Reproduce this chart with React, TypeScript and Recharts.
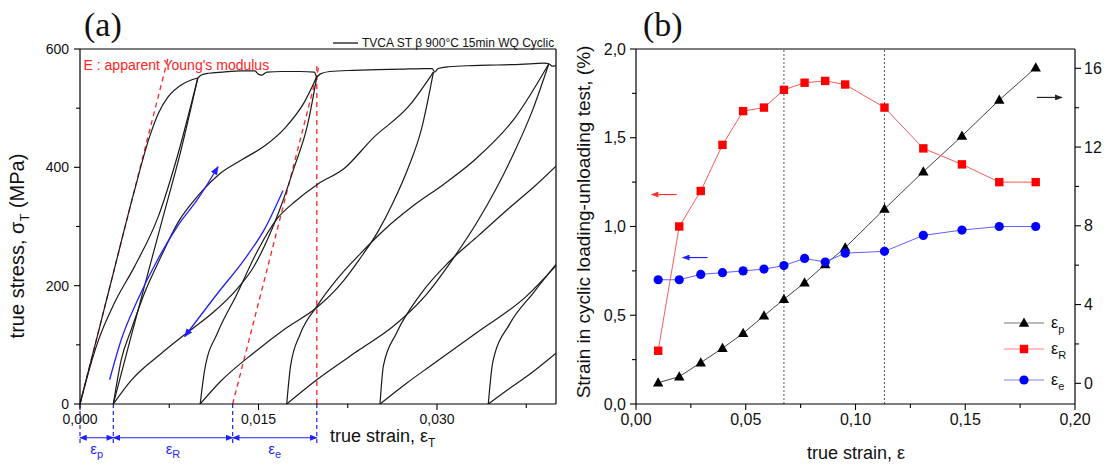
import React from 'react';
import { LineChart, ComposedChart, Line, XAxis, YAxis, ReferenceLine, ReferenceDot } from 'recharts';

type Pt = [number, number];

// ---------- Panel (a): true strain vs true stress (MPa) ----------
const envelopeA: Pt[] = [[0, 0], [0.0015, 118], [0.00286, 226], [0.0045, 355], [0.00585, 452], [0.0066, 492], [0.0074, 519], [0.0085, 539], [0.0094, 548], [0.0099, 551]];
const unload1A: Pt[] = [[0, 0], [0.0008, 60], [0.0015, 105], [0.0029, 171], [0.0046, 233], [0.0066, 318], [0.0082, 420], [0.0099, 551]];
const elastic1A: Pt[] = [[0.0028, 0], [0.004, 92], [0.0054, 198], [0.0071, 325], [0.0085, 430], [0.0099, 551]];
const plateauA: Pt[] = [[0.0099, 551], [0.0102, 556], [0.0108, 559], [0.012, 561], [0.0135, 563], [0.0147, 563], [0.015, 557], [0.0153, 556], [0.0157, 561], [0.017, 562], [0.0185, 562], [0.0197, 561], [0.0199, 553], [0.0202, 558], [0.021, 562], [0.023, 564], [0.025, 565], [0.027, 566], [0.029, 567], [0.0296, 567], [0.0298, 561], [0.0301, 567], [0.031, 570], [0.033, 572], [0.035, 573], [0.037, 574], [0.039, 576], [0.0394, 575], [0.0397, 571], [0.04, 572]];
const reload2A: Pt[] = [[0.0028, 0], [0.00347, 75], [0.00431, 126], [0.00543, 188], [0.00683, 250], [0.00824, 307], [0.00992, 352], [0.0118, 390], [0.0137, 414], [0.0155, 436], [0.0172, 466], [0.01888, 511], [0.0199, 553]];
const unload2A: Pt[] = [[0.0028, 0], [0.0043, 40], [0.0068, 85], [0.0091, 122], [0.0112, 155], [0.013, 190], [0.0146, 232], [0.0158, 280], [0.0169, 335], [0.018, 400], [0.0191, 470], [0.0199, 553]];
const reload3A: Pt[] = [[0.0101, 0], [0.01048, 58], [0.0116, 122], [0.0131, 182], [0.015, 262], [0.0166, 314], [0.018, 341], [0.02, 372], [0.0222, 398], [0.0246, 449], [0.0277, 505], [0.0297, 561]];
const unload3A: Pt[] = [[0.0101, 0], [0.0118, 38], [0.0147, 88], [0.0173, 128], [0.0199, 163], [0.0218, 200], [0.0235, 245], [0.025, 290], [0.0263, 340], [0.0276, 400], [0.0287, 465], [0.0297, 561]];
const reload4A: Pt[] = [[0.01737, 0], [0.0177, 65], [0.0185, 118], [0.0199, 165], [0.0216, 211], [0.0236, 255], [0.0256, 295], [0.028, 335], [0.0306, 372], [0.0333, 415], [0.0366, 485], [0.0394, 575]];
const unload4A: Pt[] = [[0.01737, 0], [0.0199, 41], [0.0235, 92], [0.0263, 131], [0.0291, 185], [0.0315, 250], [0.0333, 305], [0.035, 365], [0.0366, 430], [0.038, 495], [0.0394, 575]];
const reload5A: Pt[] = [[0.02521, 0], [0.0255, 65], [0.0266, 120], [0.0286, 185], [0.031, 240], [0.0335, 285], [0.036, 330], [0.0382, 368], [0.04, 402]];
const unload5A: Pt[] = [[0.02521, 0], [0.0275, 36], [0.0295, 65], [0.0333, 120], [0.0375, 182], [0.04, 234]];
const reload6A: Pt[] = [[0.03431, 0], [0.0347, 72], [0.0361, 135], [0.0381, 188], [0.04, 236]];
const unload6A: Pt[] = [[0.03431, 0], [0.036, 25], [0.0375, 46], [0.04, 86]];

const arrowUpA: Pt[] = [[0.00249, 41], [0.00347, 109], [0.00487, 177], [0.00655, 245], [0.00824, 302], [0.00992, 347], [0.0116, 401]];
const arrowDownA: Pt[] = [[0.0088, 114], [0.0116, 188], [0.01384, 245], [0.01552, 296], [0.01706, 361]];

const modulusLine1A: Pt[] = [[0, 0], [0.0074, 585]];
const modulusLine2A: Pt[] = [[0.01283, 0], [0.02011, 573]];
const peakLineA: Pt[] = [[0.0199, 0], [0.0199, 573]];

const dimMarksA = [0, 0.0028, 0.01283, 0.0199];
const dimLabelsA = ['p', 'R', 'e'];
const dimArrowStressA = -57;
const dimDashEndA = -66;
const dimLabelStressA = -84;
const modulusTextPosA: Pt = [0.0003, 573];
const modulusTextA = "E : apparent Young's modulus";

const xTicksA = [0, 0.0075, 0.015, 0.0225, 0.03, 0.0375];
const xMajorsA = [0, 0.015, 0.03];
const xLabelsA = ['0,000', '0,015', '0,030'];
const yTicksA = [0, 100, 200, 300, 400, 500, 600];
const yMajorsA = [0, 200, 400, 600];
const yLabelsA = ['0', '200', '400', '600'];

// ---------- Panel (b) ----------
const strainB = [0.0101, 0.0197, 0.0295, 0.0394, 0.0488, 0.0583, 0.0674, 0.0768, 0.0862, 0.0953, 0.1132, 0.1309, 0.1485, 0.1655, 0.1821];
const epsRB = [0.30, 1.00, 1.20, 1.46, 1.65, 1.67, 1.77, 1.81, 1.82, 1.80, 1.67, 1.44, 1.35, 1.25, 1.25];
const epsEB = [0.70, 0.70, 0.73, 0.74, 0.75, 0.76, 0.78, 0.82, 0.80, 0.85, 0.86, 0.95, 0.98, 1.00, 1.00];
const epsPB = [0.03, 0.34, 1.05, 1.78, 2.54, 3.43, 4.27, 5.11, 6.04, 6.89, 8.85, 10.75, 12.56, 14.39, 16.03];

const dottedXB = [0.0674, 0.1132];
const redArrowB: Pt[] = [[0.0071, 1.18], [0.0185, 1.18]];
const blueArrowB: Pt[] = [[0.0213, 0.825], [0.0326, 0.825]];
const blackArrowB: Pt[] = [[0.1826, 14.52], [0.194, 14.52]];

const xTicksB = [0, 0.025, 0.05, 0.075, 0.1, 0.125, 0.15, 0.175, 0.2];
const xMajorsB = [0, 0.05, 0.1, 0.15, 0.2];
const xLabelsB = ['0,00', '0,05', '0,10', '0,15', '0,20'];
const yTicksB = [0, 0.25, 0.5, 0.75, 1, 1.25, 1.5, 1.75, 2];
const yMajorsB = [0, 0.5, 1, 1.5, 2];
const yLabelsB = ['0,0', '0,5', '1,0', '1,5', '2,0'];
const y2TicksB = [0, 2, 4, 6, 8, 10, 12, 14, 16];
const y2MajorsB = [0, 4, 8, 12, 16];
const y2LabelsB = ['0', '4', '8', '12', '16'];
const y2DomainB: [number, number] = [-1.05, 16.98];

const dataB = strainB.map((x, i) => ({ x, R: epsRB[i], e: epsEB[i], p: epsPB[i] }));

const FONT = "'Liberation Sans', Arial, Helvetica, sans-serif";
const SERIF = "'Liberation Serif', 'DejaVu Serif', serif";

const toXY = (pts: Pt[]) => pts.map(([x, y]) => ({ x, y }));
const seg = (pts: Pt[]) => pts.map(([x, y]) => ({ x, y }));

const curvesA = [envelopeA, unload1A, elastic1A, plateauA, reload2A, unload2A, reload3A, unload3A, reload4A, unload4A, reload5A, unload5A, reload6A, unload6A];

type Side = 'left' | 'right' | 'bottom';
function makeTick(side: Side, majors: number[], labels: string[], fontSize: number, major: number, minor: number, gap: number) {
  return (props: any) => {
    const { x, y, payload } = props;
    const v = payload.value;
    const mi = majors.findIndex((m) => Math.abs(m - v) < 1e-9);
    const len = mi >= 0 ? major : minor;
    if (side === 'left') {
      return (
        <g>
          <line x1={x} y1={y} x2={x - len} y2={y} stroke="#000" strokeWidth={1.1} />
          {mi >= 0 && <text x={x - len - gap} y={y + fontSize * 0.35} textAnchor="end" fontSize={fontSize} fontFamily={FONT} fill="#111">{labels[mi]}</text>}
        </g>
      );
    }
    if (side === 'right') {
      return (
        <g>
          <line x1={x} y1={y} x2={x + len} y2={y} stroke="#000" strokeWidth={1.1} />
          {mi >= 0 && <text x={x + len + gap} y={y + fontSize * 0.35} textAnchor="start" fontSize={fontSize} fontFamily={FONT} fill="#111">{labels[mi]}</text>}
        </g>
      );
    }
    return (
      <g>
        <line x1={x} y1={y} x2={x} y2={y + len} stroke="#000" strokeWidth={1.1} />
        {mi >= 0 && <text x={x} y={y + gap} textAnchor="middle" fontSize={fontSize} fontFamily={FONT} fill="#111">{labels[mi]}</text>}
      </g>
    );
  };
}

const Triangle = (props: any) => {
  const { cx, cy, index } = props;
  if (cx == null || cy == null) return <g key={index} />;
  return <path key={index} d={`M${cx},${cy - 5.5} L${cx + 5.2},${cy + 3.8} L${cx - 5.2},${cy + 3.8} Z`} fill="#000" />;
};
const Square = (props: any) => {
  const { cx, cy, index } = props;
  if (cx == null || cy == null) return <g key={index} />;
  return <rect key={index} x={cx - 4.2} y={cy - 4.2} width={8.4} height={8.4} fill="#ff0000" />;
};
const Dot = (props: any) => {
  const { cx, cy, index } = props;
  if (cx == null || cy == null) return <g key={index} />;
  return <circle key={index} cx={cx} cy={cy} r={4.6} fill="#0000ff" />;
};

const Sub = ({ base, sub, size, subSize, color }: { base: string; sub: string; size: number; subSize: number; color: string }) => (
  <>
    <tspan fontSize={size} fill={color}>{base}</tspan>
    <tspan fontSize={subSize} dy={size * 0.3} fill={color}>{sub}</tspan>
  </>
);

export default function App() {
  const black = '#1a1a1a';
  const blue = '#1f1fff';
  const red = '#ff2424';
  return (
    <div style={{ position: 'absolute', left: 0, top: 0, width: 1109, height: 466, background: '#fff', fontFamily: FONT }}>
      <svg width={0} height={0} style={{ position: 'absolute' }}>
        <defs>
          <marker id="ahBlue" viewBox="0 0 10 8" refX={9} refY={4} markerWidth={9} markerHeight={7} markerUnits="userSpaceOnUse" orient="auto-start-reverse">
            <path d="M0,0 L10,4 L0,8 Z" fill={blue} />
          </marker>
          <marker id="ahBlueS" viewBox="0 0 10 8" refX={9} refY={4} markerWidth={8} markerHeight={6} markerUnits="userSpaceOnUse" orient="auto-start-reverse">
            <path d="M0,0 L10,4 L0,8 Z" fill={blue} />
          </marker>
          <marker id="ahRed" viewBox="0 0 10 8" refX={9} refY={4} markerWidth={8} markerHeight={6} markerUnits="userSpaceOnUse" orient="auto-start-reverse">
            <path d="M0,0 L10,4 L0,8 Z" fill="#ff3030" />
          </marker>
          <marker id="ahBlack" viewBox="0 0 10 8" refX={9} refY={4} markerWidth={8} markerHeight={6} markerUnits="userSpaceOnUse" orient="auto-start-reverse">
            <path d="M0,0 L10,4 L0,8 Z" fill="#222" />
          </marker>
        </defs>
      </svg>

      <div style={{ position: 'absolute', left: 0, top: 0 }}>
        <LineChart width={560} height={466} margin={{ top: 49, right: 4, bottom: 32, left: 30 }}>
          <XAxis dataKey="x" type="number" domain={[0, 0.04]} allowDataOverflow ticks={xTicksA} interval={0} height={30}
            axisLine={{ stroke: '#000', strokeWidth: 1.2 }} tickLine={false} tickSize={0} tickMargin={0}
            tick={makeTick('bottom', xMajorsA, xLabelsA, 14, 6, 4, 20)} />
          <YAxis type="number" domain={[0, 600]} allowDataOverflow ticks={yTicksA} interval={0} width={50}
            axisLine={{ stroke: '#000', strokeWidth: 1.2 }} tickLine={false} tickSize={0} tickMargin={0}
            tick={makeTick('left', yMajorsA, yLabelsA, 14, 6, 4, 5)} />
          <ReferenceLine y={600} stroke="#000" strokeWidth={1.2} />
          <ReferenceLine x={0.04} stroke="#000" strokeWidth={1.2} />

          {[modulusLine1A, modulusLine2A, peakLineA].map((s, i) => (
            <ReferenceLine key={'red' + i} segment={seg(s)} stroke={red} strokeWidth={1.3} strokeDasharray="5 4" ifOverflow="visible" />
          ))}

          {curvesA.map((c, i) => (
            <Line key={'c' + i} data={toXY(c)} dataKey="y" type="monotone" stroke={black} strokeWidth={1.2}
              dot={false} activeDot={false} isAnimationActive={false} legendType="none" />
          ))}

          <Line data={toXY(arrowUpA)} dataKey="y" type="monotone" stroke={blue} strokeWidth={1.3} dot={false} activeDot={false}
            isAnimationActive={false} markerEnd="url(#ahBlue)" legendType="none" />
          <Line data={toXY(arrowDownA)} dataKey="y" type="monotone" stroke={blue} strokeWidth={1.3} dot={false} activeDot={false}
            isAnimationActive={false} markerStart="url(#ahBlue)" legendType="none" />

          {dimMarksA.map((m, i) => (
            <ReferenceLine key={'dm' + i} segment={[{ x: m, y: 0 }, { x: m, y: dimDashEndA }]} stroke={blue} strokeWidth={1.2}
              strokeDasharray="4 3" ifOverflow="visible" />
          ))}
          {dimLabelsA.map((_, i) => (
            <ReferenceLine key={'da' + i} segment={[{ x: dimMarksA[i], y: dimArrowStressA }, { x: dimMarksA[i + 1], y: dimArrowStressA }]}
              stroke={blue} strokeWidth={1.2} ifOverflow="visible" markerStart="url(#ahBlueS)" markerEnd="url(#ahBlueS)" />
          ))}
          {dimLabelsA.map((lab, i) => (
            <ReferenceDot key={'dl' + i} x={(dimMarksA[i] + dimMarksA[i + 1]) / 2} y={dimLabelStressA} r={0} ifOverflow="visible"
              shape={(p: any) => (
                <text x={p.cx} y={p.cy} textAnchor="middle" fontFamily={FONT}>
                  <Sub base="ε" sub={lab} size={15} subSize={11} color={blue} />
                </text>
              )} />
          ))}
          <ReferenceDot x={modulusTextPosA[0]} y={modulusTextPosA[1]} r={0} ifOverflow="visible"
            shape={(p: any) => (
              <text x={p.cx} y={p.cy + 5} textAnchor="start" fontSize={14} fontFamily={FONT} fill={red}>{modulusTextA}</text>
            )} />
        </LineChart>
      </div>

      <div style={{ position: 'absolute', left: 560, top: 0 }}>
        <ComposedChart width={549} height={466} data={dataB} margin={{ top: 49, right: 8, bottom: 32, left: 20 }}>
          <XAxis dataKey="x" type="number" domain={[0, 0.2]} allowDataOverflow ticks={xTicksB} interval={0} height={30}
            axisLine={{ stroke: '#000', strokeWidth: 1.2 }} tickLine={false} tickSize={0} tickMargin={0}
            tick={makeTick('bottom', xMajorsB, xLabelsB, 16, 6, 4, 21)} />
          <YAxis yAxisId="left" orientation="left" type="number" domain={[0, 2]} allowDataOverflow ticks={yTicksB} interval={0} width={56}
            axisLine={{ stroke: '#000', strokeWidth: 1.2 }} tickLine={false} tickSize={0} tickMargin={0}
            tick={makeTick('left', yMajorsB, yLabelsB, 16, 6, 4, 4)} />
          <YAxis yAxisId="right" orientation="right" type="number" domain={y2DomainB} allowDataOverflow ticks={y2TicksB} interval={0} width={26}
            axisLine={{ stroke: '#000', strokeWidth: 1.2 }} tickLine={false} tickSize={0} tickMargin={0}
            tick={makeTick('right', y2MajorsB, y2LabelsB, 16, 6, 4, 3)} />
          <ReferenceLine yAxisId="left" y={2} stroke="#000" strokeWidth={1.2} />
          {dottedXB.map((v, i) => (
            <ReferenceLine key={'dot' + i} yAxisId="left" x={v} stroke="#555" strokeWidth={1} strokeDasharray="2 2" />
          ))}
          <ReferenceLine yAxisId="left" segment={seg(redArrowB)} stroke="#ff3030" strokeWidth={1.2} markerStart="url(#ahRed)" ifOverflow="visible" />
          <ReferenceLine yAxisId="left" segment={seg(blueArrowB)} stroke={blue} strokeWidth={1.2} markerStart="url(#ahBlueS)" ifOverflow="visible" />
          <ReferenceLine yAxisId="right" segment={seg(blackArrowB)} stroke="#222" strokeWidth={1.2} markerEnd="url(#ahBlack)" ifOverflow="visible" />

          <Line yAxisId="right" dataKey="p" type="linear" stroke="#444" strokeWidth={1} dot={Triangle} activeDot={false} isAnimationActive={false} />
          <Line yAxisId="left" dataKey="e" type="linear" stroke="#6060ff" strokeWidth={1} dot={Dot} activeDot={false} isAnimationActive={false} />
          <Line yAxisId="left" dataKey="R" type="linear" stroke="#ff5a5a" strokeWidth={1} dot={Square} activeDot={false} isAnimationActive={false} />
        </ComposedChart>
      </div>

      <svg width={1109} height={466} style={{ position: 'absolute', left: 0, top: 0, pointerEvents: 'none' }}>
        <text x={84} y={36} fontFamily={SERIF} fontSize={34} fill="#111">(a)</text>
        <text x={643} y={36} fontFamily={SERIF} fontSize={34} fill="#111">(b)</text>

        <line x1={333} y1={43} x2={358} y2={43} stroke="#000" strokeWidth={1.2} />
        <text x={362} y={47} fontFamily={FONT} fontSize={12} fill="#111">TVCA ST β 900°C 15min WQ Cyclic</text>

        <text transform="translate(24,246) rotate(-90)" textAnchor="middle" fontFamily={FONT} fill="#111">
          <tspan fontSize={20}>true stress, σ</tspan>
          <tspan fontSize={13} dy={5}>T</tspan>
          <tspan fontSize={20} dy={-5}> (MPa)</tspan>
        </text>
        <text x={330} y={442} fontFamily={FONT} fill="#111">
          <tspan fontSize={18}>true strain, ε</tspan>
          <tspan fontSize={12} dy={5}>T</tspan>
        </text>

        <text x={856} y={459} textAnchor="middle" fontFamily={FONT} fontSize={18} fill="#111">true strain, ε</text>
        <text transform="translate(590,222) rotate(-90)" textAnchor="middle" fontFamily={FONT} fontSize={19} fill="#111">
          Strain in cyclic loading-unloading test, (%)
        </text>

        <line x1={1004} y1={323} x2={1044} y2={323} stroke="#777" strokeWidth={1} />
        <path d="M1024,317.5 L1029.2,326.8 L1018.8,326.8 Z" fill="#000" />
        <text x={1051} y={328} fontFamily={FONT}><Sub base="ε" sub="p" size={16} subSize={11} color="#111" /></text>

        <line x1={1004} y1={349} x2={1044} y2={349} stroke="#ff8080" strokeWidth={1} />
        <rect x={1019.8} y={344.8} width={8.4} height={8.4} fill="#ff0000" />
        <text x={1051} y={354} fontFamily={FONT}><Sub base="ε" sub="R" size={16} subSize={11} color="#111" /></text>

        <line x1={1004} y1={380} x2={1044} y2={380} stroke="#8080ff" strokeWidth={1} />
        <circle cx={1024} cy={380} r={4.6} fill="#0000ff" />
        <text x={1051} y={385} fontFamily={FONT}><Sub base="ε" sub="e" size={16} subSize={11} color="#111" /></text>
      </svg>
    </div>
  );
}
